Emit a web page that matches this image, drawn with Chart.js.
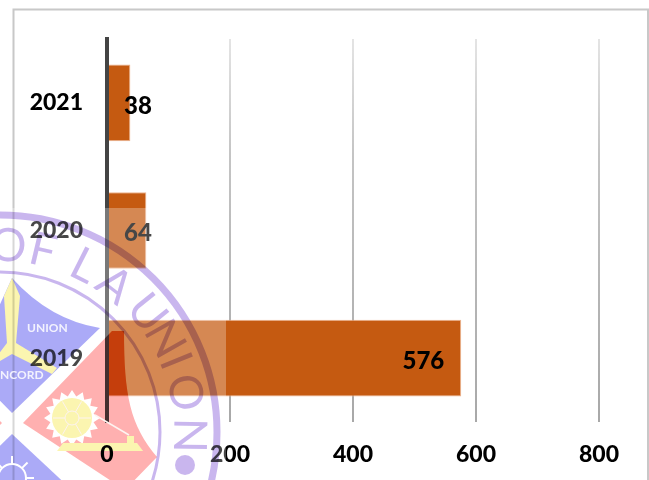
<!DOCTYPE html>
<html>
<head>
<meta charset="utf-8">
<title>Chart</title>
<script src="https://cdn.jsdelivr.net/npm/chart.js@4"></script>
<style>
  html, body { margin: 0; padding: 0; background: #fff; }
  canvas { display: block; }
</style>
</head>
<body>
<canvas id="graphique" width="649" height="480"></canvas>
<script>
var categories = ['2021', '2020', '2019'];
var valeurs = [38, 64, 576];
var axeMax = 800;
var axePas = 200;

var sealLetters = ['O', 'F', 'L', 'A', 'U', 'N', 'I', 'O', 'N'];
var sealAngles = [2.5, 13.3, 26.8, 38, 51, 60.5, 68, 78, 91];

var police = 'Lato, sans-serif';

// cadre gris autour du graph
var cadre = {
  id: 'cadre',
  beforeDraw: function (chart) {
    var c = chart.ctx;
    c.save();
    c.strokeStyle = '#c8c8c8';
    c.lineWidth = 2;
    c.strokeRect(13.5, 9.5, 634.5, 480);
    c.restore();
  }
};

// valeurs sur les barres
var etiquettes = {
  id: 'etiquettes',
  afterDatasetsDraw: function (chart) {
    var c = chart.ctx;
    var barres = chart.getDatasetMeta(0).data;
    c.save();
    c.font = '900 24px ' + police;
    c.fillStyle = '#000';
    c.textBaseline = 'middle';
    for (var i = 0; i < barres.length; i++) {
      var b = barres[i];
      if (valeurs[i] < 100) {
        c.textAlign = 'left';
        c.fillText(valeurs[i], b.base + 16, b.y + 3);
      } else {
        c.textAlign = 'right';
        c.fillText(valeurs[i], b.x - 17, b.y + 3);
      }
    }
    c.restore();
  }
};

function cheminRose(c) {
  c.moveTo(112, 331);
  c.lineTo(124, 331);
  c.bezierCurveTo(124, 395, 130, 425, 157, 457);
  c.lineTo(125, 490);
  c.lineTo(23, 423);
  c.closePath();
}

function cheminBleu(c) {
  c.moveTo(12, 278);
  c.quadraticCurveTo(50, 320, 100, 328);
  c.lineTo(12, 413);
  c.lineTo(-30, 370);
  c.closePath();
}

function cheminRoue(c) {
  for (var k = 0; k < 32; k++) {
    var ang = k * Math.PI / 16;
    var ray = k % 2 ? 22 : 28;
    if (k == 0) c.moveTo(72 + ray, 418);
    else c.lineTo(72 + ray * Math.cos(ang), 418 + ray * Math.sin(ang));
  }
  c.closePath();
}

function cheminSocle(c) {
  c.moveTo(63, 443);
  c.lineTo(137, 443);
  c.lineTo(143, 451);
  c.lineTo(57, 451);
  c.closePath();
}

function cheminTorche(c) {
  c.moveTo(12, 278);
  c.lineTo(20, 296);
  c.lineTo(16, 343);
  c.lineTo(57, 368);
  c.lineTo(52, 374);
  c.lineTo(12, 354);
  c.lineTo(-12, 368);
  c.lineTo(7, 343);
  c.lineTo(4, 296);
  c.closePath();
}

// remplit une forme en laissant des creux, meme si le creux deborde
function remplirAvecCreux(c, forme, creux) {
  c.save();
  for (var i = 0; i < creux.length; i++) {
    c.beginPath();
    c.rect(-50, 0, 760, 520);
    creux[i](c);
    c.clip('evenodd');
  }
  c.beginPath();
  forme(c);
  c.fill();
  c.restore();
}

// le sceau par dessus le graph
var sceau = {
  id: 'sceau',
  afterDraw: function (chart) {
    var c = chart.ctx;
    var cx = 0, cy = 432;
    c.save();

    // voile blanc de l'image, sauf sur le losange rose
    c.beginPath();
    c.rect(0, 208, 226, 272);
    cheminRose(c);
    c.fillStyle = 'rgba(255,255,255,0.28)';
    c.fill('evenodd');

    c.globalCompositeOperation = 'multiply';

    // losange bleu haut, la torche reste en creux
    c.fillStyle = '#abaaf7';
    remplirAvecCreux(c, cheminBleu, [cheminTorche]);

    // losange bleu bas
    c.beginPath();
    c.moveTo(12, 434);
    c.lineTo(72, 490);
    c.lineTo(-30, 490);
    c.lineTo(-20, 465);
    c.closePath();
    c.fill();

    // losange rose, roue et socle en creux
    c.fillStyle = '#ffb0b0';
    remplirAvecCreux(c, cheminRose, [cheminRoue, cheminSocle]);
    c.beginPath();
    c.moveTo(-4, 417);
    c.lineTo(2, 423);
    c.lineTo(-4, 429);
    c.closePath();
    c.fill();

    // anneaux
    c.strokeStyle = '#c9b6ee';
    c.lineWidth = 7;
    c.beginPath();
    c.arc(cx, cy, 217, 0, Math.PI * 2);
    c.stroke();
    c.lineWidth = 3;
    c.beginPath();
    c.arc(cx, cy, 160, 0, Math.PI * 2);
    c.stroke();

    // lettres du sceau
    c.fillStyle = '#c9b6ee';
    c.font = '46px ' + police;
    c.textAlign = 'center';
    c.textBaseline = 'middle';
    for (var i = 0; i < sealLetters.length; i++) {
      var a = sealAngles[i] * Math.PI / 180;
      var r = 186 + (i > 3 ? 3 : 0);
      c.save();
      c.translate(cx + r * Math.sin(a), cy - r * Math.cos(a));
      c.rotate(a);
      c.fillText(sealLetters[i], 0, 0);
      c.restore();
    }
    c.beginPath();
    c.arc(185, 465, 10, 0, Math.PI * 2);
    c.fill();

    // parties jaunes
    c.fillStyle = '#fbf5b0';
    c.beginPath();
    cheminTorche(c);
    c.fill();
    c.beginPath();
    c.arc(72, 418, 20, 0, Math.PI * 2);
    c.fill();
    c.beginPath();
    cheminSocle(c);
    c.fill();

    c.globalCompositeOperation = 'source-over';
    c.fillRect(127, 436, 7, 7);

    // bras et rayons de la roue
    c.strokeStyle = '#fdf3f0';
    c.lineWidth = 1.5;
    c.beginPath();
    c.moveTo(95, 415);
    c.lineTo(129, 435);
    c.stroke();
    c.lineWidth = 1;
    c.beginPath();
    c.arc(72, 418, 7, 0, Math.PI * 2);
    c.stroke();
    for (var m = 0; m < 6; m++) {
      var d = m * Math.PI / 3;
      c.beginPath();
      c.moveTo(72 + 7 * Math.cos(d), 418 + 7 * Math.sin(d));
      c.lineTo(72 + 19 * Math.cos(d), 418 + 19 * Math.sin(d));
      c.stroke();
    }

    // engrenage blanc en bas
    c.strokeStyle = '#ffffff';
    c.lineWidth = 2;
    c.beginPath();
    c.arc(12, 478, 14, 0, Math.PI * 2);
    c.stroke();
    for (var s = 0; s < 8; s++) {
      var t = s * Math.PI / 4;
      c.beginPath();
      c.moveTo(12 + 14 * Math.cos(t), 478 + 14 * Math.sin(t));
      c.lineTo(12 + 22 * Math.cos(t), 478 + 22 * Math.sin(t));
      c.stroke();
    }

    // textes blancs du sceau
    c.fillStyle = 'rgba(255,255,255,0.85)';
    c.font = 'bold 12px ' + police;
    c.textAlign = 'left';
    c.fillText('UNION', 27, 328);
    c.fillText('NCORD', 0, 375);
    c.restore();
  }
};

function couleurGrille(ctx) {
  var g = ctx.chart.ctx.createLinearGradient(0, 39, 0, 422);
  g.addColorStop(0, '#e4e4e4');
  g.addColorStop(0.3, '#c4c4c4');
  g.addColorStop(1, '#a8a8a8');
  return g;
}

new Chart(document.getElementById('graphique'), {
  type: 'bar',
  data: {
    labels: categories,
    datasets: [{
      data: valeurs,
      backgroundColor: '#c55a11',
      borderColor: '#edb48f',
      borderWidth: 1,
      barPercentage: 1,
      categoryPercentage: 0.6
    }]
  },
  options: {
    indexAxis: 'y',
    responsive: false,
    animation: false,
    layout: { padding: { top: 39, right: 50, bottom: 0, left: 0 } },
    plugins: { legend: { display: false }, tooltip: { enabled: false } },
    scales: {
      x: {
        min: 0,
        max: axeMax,
        afterFit: function (s) { s.height = 58; },
        grid: { color: couleurGrille, lineWidth: 2, drawTicks: false },
        border: { display: false },
        ticks: {
          stepSize: axePas,
          padding: 19,
          maxRotation: 0,
          color: '#000',
          font: { family: police, size: 23, weight: '900' }
        }
      },
      y: {
        afterFit: function (s) { s.width = 107; },
        grid: { display: false },
        border: { display: true, color: '#444444', width: 4, z: 1 },
        ticks: {
          padding: 16,
          color: '#000',
          font: { family: police, size: 23, weight: '900' }
        }
      }
    }
  },
  plugins: [cadre, etiquettes, sceau]
});
</script>
</body>
</html>
